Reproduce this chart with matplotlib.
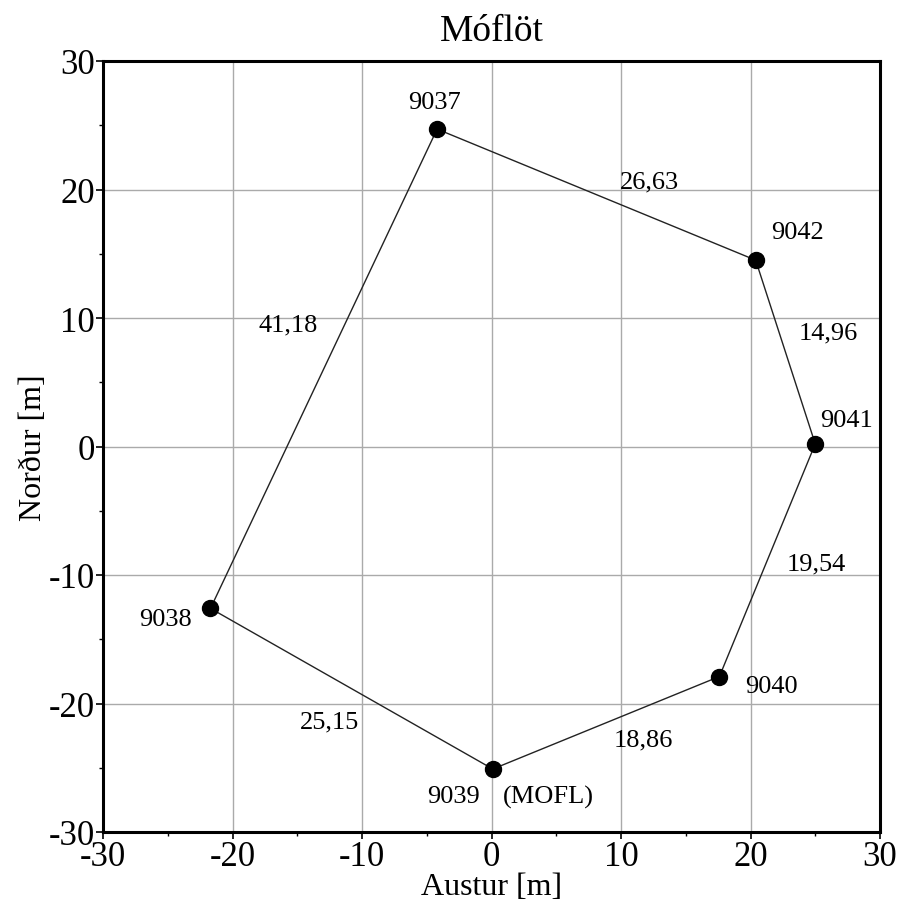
import numpy as np
from matplotlib import pyplot as plt
from matplotlib.ticker import MultipleLocator

plt.rcParams['font.family'] = ['Liberation Serif', 'DejaVu Serif']
plt.rcParams['axes.unicode_minus'] = False

# survey points (east, north) in metres
names = ['9037', '9042', '9041', '9040', '9039', '9038']
east = [-4.2, 20.4, 25.0, 17.6, 0.1, -21.7]
north = [24.7, 14.5, 0.2, -17.9, -25.1, -12.6]

# measured side lengths, in order 9037-9042, 9042-9041, ...
sides = ['26,63', '14,96', '19,54', '18,86', '25,15', '41,18']

# where the labels go (data coords)
name_pos = [(-4.4, 26.8), (23.6, 16.7), (27.4, 2.1), (21.6, -18.6), (-2.9, -27.2), (-25.2, -13.4)]
side_pos = [(12.2, 20.6), (26.0, 8.9), (25.1, -9.1), (11.7, -22.8), (-12.5, -21.4), (-15.7, 9.5)]

fig = plt.figure(figsize=(9.09, 9.04), dpi=100)
ax = fig.add_axes([103/909, 71/904, 777/909, 771/904])

x = np.array(east + east[:1])
y = np.array(north + north[:1])
ax.plot(x, y, color='#222222', lw=1.0, zorder=3)
ax.plot(east, north, 'o', color='black', ms=11.5, zorder=4)

for n, (px, py) in zip(names, name_pos):
    ax.text(px, py, n, fontsize=19, ha='center', va='center', zorder=5)
ax.text(0.9, -27.2, '(MOFL)', fontsize=19, ha='left', va='center', zorder=5)

for s, (px, py) in zip(sides, side_pos):
    ax.text(px, py, s, fontsize=19, ha='center', va='center', zorder=5)

ax.set_xlim(-30, 30)
ax.set_ylim(-30, 30)
ax.xaxis.set_major_locator(MultipleLocator(10))
ax.yaxis.set_major_locator(MultipleLocator(10))
ax.xaxis.set_minor_locator(MultipleLocator(5))
ax.yaxis.set_minor_locator(MultipleLocator(5))
ax.grid(True, which='major', color='#aaaaaa', lw=1.0, zorder=1)
ax.tick_params(which='major', direction='out', length=5, width=1.2, labelsize=25, pad=1)
ax.tick_params(which='minor', direction='out', length=3, width=1.0)
for sp in ax.spines.values():
    sp.set_linewidth(2.2)

ax.set_xlabel('Austur [m]', fontsize=23, labelpad=-1)
ax.set_ylabel('Norður [m]', fontsize=23, labelpad=0)
ax.set_title('Móflöt', fontsize=27, pad=15)

plt.savefig('out.png', dpi=100)
